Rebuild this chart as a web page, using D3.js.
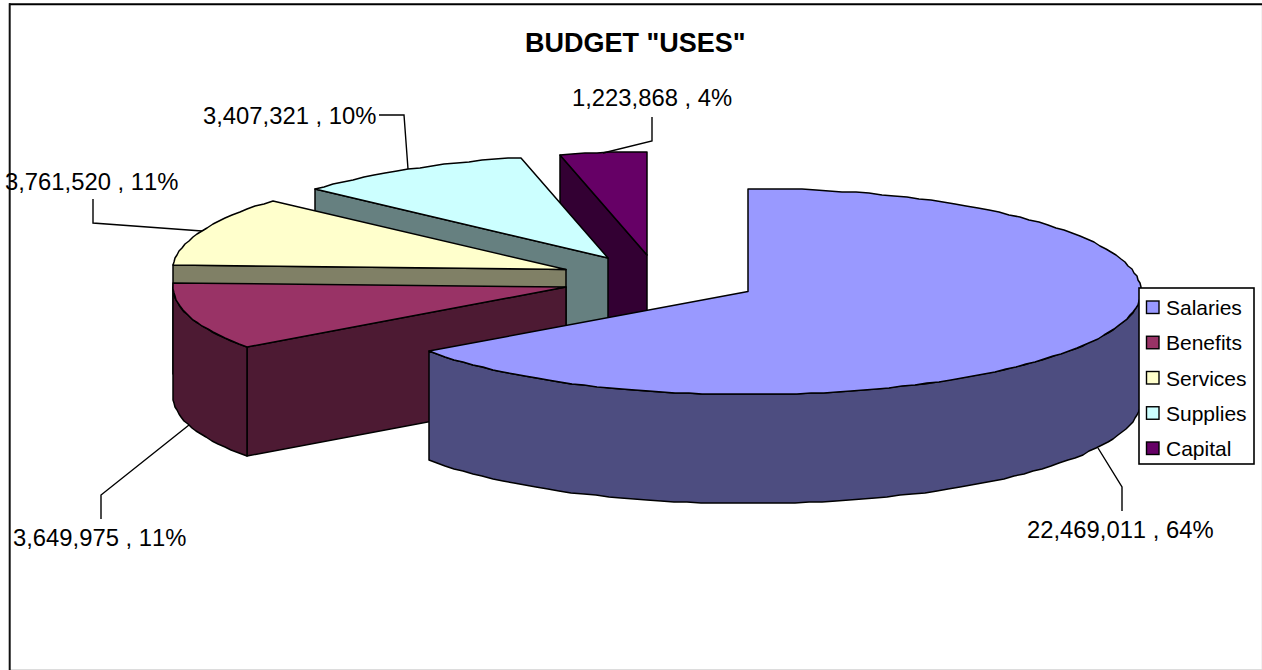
<!DOCTYPE html>
<html>
<head>
<meta charset="utf-8">
<title>Budget Uses</title>
<script src="https://cdn.jsdelivr.net/npm/d3@7/dist/d3.min.js"></script>
<style>
  html, body { margin: 0; padding: 0; background: #fff; }
  svg { display: block; }
  text { font-family: "Liberation Sans", Arial, sans-serif; fill: #000; font-kerning: none; }
</style>
</head>
<body>
<div id="chart"></div>
<script>
// Budget figures
const titleText = 'BUDGET "USES"';
const categories = ["Salaries", "Benefits", "Services", "Supplies", "Capital"];
const amounts = [22469011, 3649975, 3761520, 3407321, 1223868];
const percentLabels = ["64%", "11%", "11%", "10%", "4%"];

// Palette: top faces and their shaded sides
const topColors = ["#9999FF", "#993366", "#FFFFCC", "#CCFFFF", "#660066"];
const sideColors = ["#4D4D80", "#4D1A33", "#808066", "#668080", "#330033"];

// Layout of the tilted pie
const width = 1262, height = 670;
const rx = 393, ry = 103, depth = 109;
const apexes = [[748, 291.5], [566, 287], [566, 269.5], [608, 258], [647, 255]];
// Label anchor (start x, baseline y) and leader elbow/end points
const labelPos = [[1027, 538], [13, 546], [5, 190], [203, 124], [572, 106]];
const leaderElbows = [
  [[1122, 487], [1122, 511]],
  [[101, 495], [101, 519]],
  [[93, 223], [93, 199]],
  [[404, 115], [379, 115]],
  [[652, 141], [652, 117]]
];

const svg = d3.select("#chart").append("svg")
  .attr("width", width).attr("height", height);

// Chart frame: dark on top and left, faint on the other two sides
const frame = svg.append("g").attr("fill", "none");
frame.append("line").attr("x1", 1261.5).attr("x2", 1261.5).attr("y1", 4).attr("y2", 670).attr("stroke", "#f2f2f2");
frame.append("line").attr("x1", 10).attr("x2", 1262).attr("y1", 669.5).attr("y2", 669.5).attr("stroke", "#dcdcdc");
frame.append("line").attr("x1", 9).attr("x2", 1262).attr("y1", 4.3).attr("y2", 4.3).attr("stroke", "#000").attr("stroke-width", 2);
frame.append("line").attr("x1", 9.7).attr("x2", 9.7).attr("y1", 3.3).attr("y2", 670).attr("stroke", "#111").attr("stroke-width", 2);

// Slice angles, clockwise from twelve o'clock
const arcs = d3.pie().sort(null).value(d => d)(amounts);

const line = d3.line();
const rim = (i, a) => [
  Math.round(apexes[i][0] + rx * Math.sin(a)),
  Math.round(apexes[i][1] - ry * Math.cos(a))
];
const arcPoints = (i, a0, a1) => {
  const n = Math.max(2, Math.ceil(Math.abs(a1 - a0) / (2 * Math.PI / 180)));
  return d3.range(n + 1).map(k => rim(i, a0 + (a1 - a0) * k / n));
};
const drop = p => [p[0], p[1] + depth];

const pieG = svg.append("g").attr("stroke", "#000").attr("stroke-width", 1.5).attr("stroke-linejoin", "round");

// Paint back to front so nearer slices cover the sides of farther ones
d3.range(arcs.length).reverse().forEach(i => {
  const { startAngle: a0, endAngle: a1 } = arcs[i];
  const apex = apexes[i];

  // Cut face along the leading edge, seen only on the left half of the ellipse
  if (a0 > Math.PI) {
    const e = rim(i, a0);
    pieG.append("path")
      .attr("d", line([apex, e, drop(e), drop(apex)]) + "Z")
      .attr("fill", sideColors[i]);
  }
  // Outer wall, seen only on the front half of the ellipse
  const wall0 = Math.max(a0, Math.PI / 2), wall1 = Math.min(a1, 3 * Math.PI / 2);
  if (wall1 > wall0) {
    const upper = arcPoints(i, wall0, wall1);
    pieG.append("path")
      .attr("d", line(upper.concat(upper.map(drop).reverse())) + "Z")
      .attr("fill", sideColors[i]);
  }
  // Top face
  pieG.append("path")
    .attr("d", line([apex].concat(arcPoints(i, a0, a1))) + "Z")
    .attr("fill", topColors[i]);
});

// Leader lines run from the rim at each slice's middle angle to its label
const leaderG = svg.append("g").attr("fill", "none").attr("stroke", "#000").attr("stroke-width", 1.4);
arcs.forEach((d, i) => {
  const mid = (d.startAngle + d.endAngle) / 2;
  let anchor = rim(i, mid);
  if (Math.cos(mid) < 0) anchor = drop(anchor);
  leaderG.append("path").attr("d", line([anchor].concat(leaderElbows[i])));
});

// Title
svg.append("text")
  .attr("x", 525).attr("y", 52)
  .attr("font-size", 27).attr("font-weight", "bold")
  .text(titleText);

// Data labels
const fmt = d3.format(",");
svg.append("g").selectAll("text").data(amounts).join("text")
  .attr("x", (d, i) => labelPos[i][0])
  .attr("y", (d, i) => labelPos[i][1])
  .attr("font-size", 23.8)
  .text((d, i) => `${fmt(d)} , ${percentLabels[i]}`);

// Legend
const legend = svg.append("g");
legend.append("rect")
  .attr("x", 1139).attr("y", 288).attr("width", 115).attr("height", 176)
  .attr("fill", "#fff").attr("stroke", "#000").attr("stroke-width", 1.6);
const rowY = d3.scalePoint().domain(categories).range([307.5, 448.5]);
categories.forEach((c, i) => {
  legend.append("rect")
    .attr("x", 1146.5).attr("y", rowY(c) - 6.5).attr("width", 12.5).attr("height", 12.5)
    .attr("fill", topColors[i]).attr("stroke", "#000").attr("stroke-width", 1.4);
  legend.append("text")
    .attr("x", 1166).attr("y", rowY(c) + 7.5)
    .attr("font-size", 21)
    .text(c);
});
</script>
</body>
</html>
